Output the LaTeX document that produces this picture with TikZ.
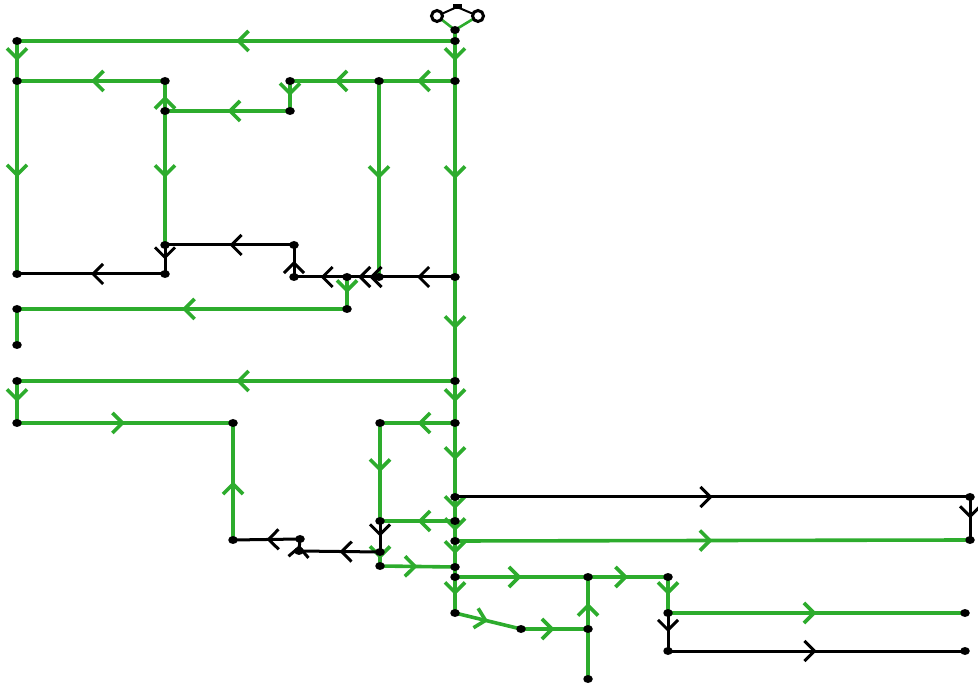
\documentclass[tikz,border=0pt]{standalone}
\usetikzlibrary{arrows.meta,decorations.markings,backgrounds,shapes.geometric}
\definecolor{gline}{RGB}{45,172,45}
\tikzset{
  x=1pt,y=-1pt,
  dot/.style={ellipse,fill=black,inner sep=0pt,minimum width=9.5pt,minimum height=8pt},
  ring/.style={circle,draw=black,line width=3pt,fill=white,inner sep=0pt,minimum size=11pt},
  topmark/.style={rectangle,fill=black,inner sep=0pt,minimum width=9pt,minimum height=5pt},
  mid/.style={postaction={decorate},decoration={markings,mark=at position 0.5 with {\arrow{Straight Barb[length=10pt,width=20pt]}}}},
  midtwo/.style={postaction={decorate},decoration={markings,mark=at position 0.3 with {\arrow{Straight Barb[length=10pt,width=20pt]}},mark=at position 0.65 with {\arrow{Straight Barb[length=10pt,width=20pt]}}}},
  gw/.style={gline,line width=3.6pt},
  bw/.style={black,line width=3pt},
  ga/.style={gw,mid},
  ba/.style={bw,mid},
}
\begin{document}
\begin{tikzpicture}
\useasboundingbox (0,0) rectangle (978,684);
% top symbol
\node[ring] (ringL) at (437,16) {};
\node[ring] (ringR) at (478,16) {};
\node[topmark] (topm) at (457,7) {};
% dots
\node[dot] (t0) at (455,30) {};
\node[dot] (a) at (455,41) {};
\node[dot] (aL) at (17,41) {};
\node[dot] (b) at (455,81) {};
\node[dot] (bL) at (17,81) {};
\node[dot] (c) at (379,81) {};
\node[dot] (d) at (290,81) {};
\node[dot] (e) at (165,81) {};
\node[dot] (f) at (290,111) {};
\node[dot] (g) at (165,111) {};
\node[dot] (h) at (165,245) {};
\node[dot] (i) at (294,245) {};
\node[dot] (j) at (165,274) {};
\node[dot] (jL) at (17,274) {};
\node[dot] (k) at (294,277) {};
\node[dot] (l) at (347,277) {};
\node[dot] (m) at (379,277) {};
\node[dot] (n) at (455,277) {};
\node[dot] (o) at (347,309) {};
\node[dot] (oL) at (17,309) {};
\node[dot] (oLL) at (17,345) {};
\node[dot] (p) at (455,381) {};
\node[dot] (pL) at (17,381) {};
\node[dot] (pLL) at (17,423) {};
\node[dot] (q) at (233,423) {};
\node[dot] (r) at (233,540) {};
\node[dot] (sA) at (300,539) {};
\node[dot] (sB) at (299,551) {};
\node[dot] (t) at (455,423) {};
\node[dot] (u) at (380,423) {};
\node[dot] (v) at (455,497) {};
\node[dot] (vR) at (970,497) {};
\node[dot] (vRR) at (970,540) {};
\node[dot] (w) at (455,521) {};
\node[dot] (xx) at (380,521) {};
\node[dot] (yy) at (380,552) {};
\node[dot] (zz) at (380,566) {};
\node[dot] (aa) at (455,541) {};
\node[dot] (bb) at (455,567) {};
\node[dot] (cc) at (455,577) {};
\node[dot] (dd) at (455,613) {};
\node[dot] (ee) at (521,629) {};
\node[dot] (ff) at (588,629) {};
\node[dot] (gg) at (588,679) {};
\node[dot] (hh) at (588,577) {};
\node[dot] (ii) at (668,577) {};
\node[dot] (jj) at (668,613) {};
\node[dot] (kk) at (965,613) {};
\node[dot] (ll) at (668,651) {};
\node[dot] (mm) at (965,651) {};
\begin{scope}[on background layer]
% top symbol lines
\draw[gw,line width=2.6pt] (ringL.center) -- (t0.center) -- (ringR.center);
\draw[bw,line width=2pt] (ringL.center) -- (topm.center) -- (ringR.center);
\draw[gw] (t0.center) -- (a.center);
% green edges
\draw[ga] (a.center) -- (aL.center);
\draw[ga] (aL.center) -- (bL.center);
\draw[ga] (a.center) -- (b.center);
\draw[ga] (b.center) -- (c.center);
\draw[ga] (c.center) -- (d.center);
\draw[ga] (d.center) -- (f.center);
\draw[ga] (f.center) -- (g.center);
\draw[ga] (g.center) -- (e.center);
\draw[ga] (e.center) -- (bL.center);
\draw[ga] (bL.center) -- (jL.center);
\draw[ga] (g.center) -- (h.center);
\draw[ga] (c.center) -- (m.center);
\draw[ga] (b.center) -- (n.center);
\draw[ga] (l.center) -- (o.center);
\draw[ga] (o.center) -- (oL.center);
\draw[gw] (oL.center) -- (oLL.center);
\draw[ga] (n.center) -- (p.center);
\draw[ga] (p.center) -- (pL.center);
\draw[ga] (pL.center) -- (pLL.center);
\draw[ga] (pLL.center) -- (q.center);
\draw[ga] (r.center) -- (q.center);
\draw[ga] (p.center) -- (t.center);
\draw[ga] (t.center) -- (u.center);
\draw[ga] (u.center) -- (xx.center);
\draw[ga] (t.center) -- (v.center);
\draw[ga] (v.center) -- (w.center);
\draw[ga] (w.center) -- (xx.center);
\draw[ga] (yy.center) -- (zz.center);
\draw[ga] (zz.center) -- (bb.center);
\draw[ga] (w.center) -- (aa.center);
\draw[ga] (aa.center) -- (vRR.center);
\draw[ga] (aa.center) -- (bb.center);
\draw[gw] (bb.center) -- (cc.center);
\draw[ga] (cc.center) -- (hh.center);
\draw[ga] (cc.center) -- (dd.center);
\draw[ga] (dd.center) -- (ee.center);
\draw[ga] (ee.center) -- (ff.center);
\draw[gw] (gg.center) -- (ff.center);
\draw[ga] (ff.center) -- (hh.center);
\draw[ga] (hh.center) -- (ii.center);
\draw[ga] (ii.center) -- (jj.center);
\draw[ga] (jj.center) -- (kk.center);
% black edges
\draw[ba] (i.center) -- (h.center);
\draw[ba] (h.center) -- (j.center);
\draw[ba] (j.center) -- (jL.center);
\draw[ba] (k.center) -- (i.center);
\draw[ba] (n.center) -- (m.center);
\draw[bw,midtwo] (m.center) -- (l.center);
\draw[ba] (l.center) -- (k.center);
\draw[ba] (sA.center) -- (r.center);
\draw[ba] (sB.center) -- (sA.center);
\draw[ba] (yy.center) -- (sB.center);
\draw[ba] (xx.center) -- (yy.center);
\draw[ba] (v.center) -- (vR.center);
\draw[ba] (vR.center) -- (vRR.center);
\draw[ba] (jj.center) -- (ll.center);
\draw[ba] (ll.center) -- (mm.center);
\end{scope}
\end{tikzpicture}
\end{document}
